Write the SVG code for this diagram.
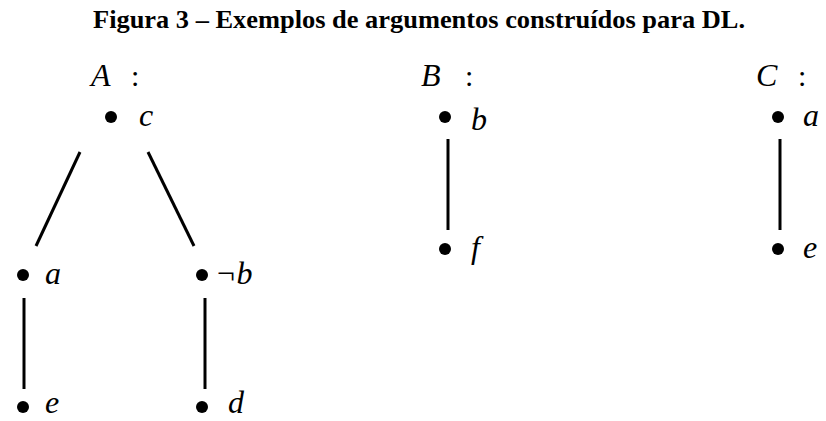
<svg xmlns="http://www.w3.org/2000/svg" width="826" height="421" viewBox="0 0 826 421">
<style>
.title{font-family:"Liberation Serif","Times New Roman",serif;font-weight:bold;font-size:26px;fill:#000}
.lbl{font-family:"Liberation Serif","Times New Roman",serif;font-style:italic;font-size:32px;fill:#000}
.cap{font-family:"Liberation Serif","Times New Roman",serif;font-style:italic;font-size:32px;fill:#000}
.colon{font-family:"Liberation Serif","Times New Roman",serif;font-size:30px;fill:#000}
.dot{fill:#000}
.edge{stroke:#000;stroke-width:3;fill:none}
</style>
<rect width="826" height="421" fill="#fff"/>
<text class="title" x="93" y="28" textLength="652" lengthAdjust="spacingAndGlyphs">Figura 3 – Exemplos de argumentos construídos para DL.</text>
<g id="labelA"><text class="cap" x="91" y="86">A</text><text class="colon" x="131" y="86">:</text></g>
<g id="labelB"><text class="cap" x="421" y="86">B</text><text class="colon" x="465" y="86">:</text></g>
<g id="labelC"><text class="cap" x="756" y="86">C</text><text class="colon" x="798" y="86">:</text></g>
<g id="A_c"><circle class="dot" cx="111" cy="117" r="6"/><text class="lbl" x="139" y="126">c</text></g>
<g id="A_a"><circle class="dot" cx="23" cy="275" r="6"/><text class="lbl" x="45" y="284">a</text></g>
<g id="A_nb"><circle class="dot" cx="202" cy="275" r="6"/><text class="lbl" x="215" y="284">¬b</text></g>
<g id="A_e"><circle class="dot" cx="23" cy="407" r="6"/><text class="lbl" x="45" y="413">e</text></g>
<g id="A_d"><circle class="dot" cx="202" cy="407" r="6"/><text class="lbl" x="228" y="413">d</text></g>
<g id="B_b"><circle class="dot" cx="445" cy="117" r="6"/><text class="lbl" x="471" y="130">b</text></g>
<g id="B_f"><circle class="dot" cx="445" cy="249" r="6"/><text class="lbl" x="471" y="258">f</text></g>
<g id="C_a"><circle class="dot" cx="778" cy="117" r="6"/><text class="lbl" x="803" y="126">a</text></g>
<g id="C_e"><circle class="dot" cx="778" cy="249" r="6"/><text class="lbl" x="803" y="258">e</text></g>
<g id="connectors">
<line class="edge" x1="80" y1="152" x2="36" y2="246" stroke-width="2"/>
<line class="edge" x1="148" y1="152" x2="194" y2="246" stroke-width="2.5"/>
<line class="edge" x1="24" y1="298" x2="24" y2="389"/>
<line class="edge" x1="205" y1="298" x2="205" y2="389"/>
<line class="edge" x1="448" y1="139" x2="448" y2="230"/>
<line class="edge" x1="780" y1="139" x2="780" y2="230"/>
</g>
</svg>
